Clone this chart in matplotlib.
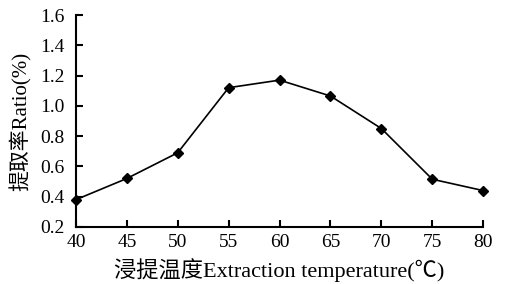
import matplotlib
matplotlib.use('Agg')
import matplotlib.pyplot as plt

# 浸提温度 vs 提取率
temperature = [40, 45, 50, 55, 60, 65, 70, 75, 80]
ratio = [0.38, 0.52, 0.69, 1.12, 1.17, 1.065, 0.85, 0.515, 0.44]
y_ticks = [0.2, 0.4, 0.6, 0.8, 1.0, 1.2, 1.4, 1.6]

plt.rcParams['font.family'] = ['Liberation Serif', 'Noto Sans CJK SC']

fig = plt.figure(figsize=(5.06, 2.84), dpi=100)
ax = fig.add_axes([0.150, 0.201, 0.805, 0.746])

ax.plot(temperature, ratio, color='black', lw=1.2, marker='D', ms=5.5,
        markerfacecolor='black', markeredgecolor='black', clip_on=False, zorder=3)

ax.set_xlim(40, 80)
ax.set_ylim(0.2, 1.6)
ax.set_xticks(temperature)
ax.set_yticks(y_ticks)
ax.set_yticklabels(['%.1f' % v for v in y_ticks])

for s in ['top', 'right']:
	ax.spines[s].set_visible(False)
for s in ['left', 'bottom']:
	ax.spines[s].set_linewidth(1.5)

ax.tick_params(direction='in', length=5, width=1.5, labelsize=14)
ax.tick_params(axis='x', pad=5)
ax.tick_params(axis='y', pad=8)

ax.set_xlabel('浸提温度Extraction temperature(℃)', fontsize=16, labelpad=5)
ax.set_ylabel('提取率Ratio(%)', fontsize=15, labelpad=6)

fig.savefig('out.png', dpi=100)
